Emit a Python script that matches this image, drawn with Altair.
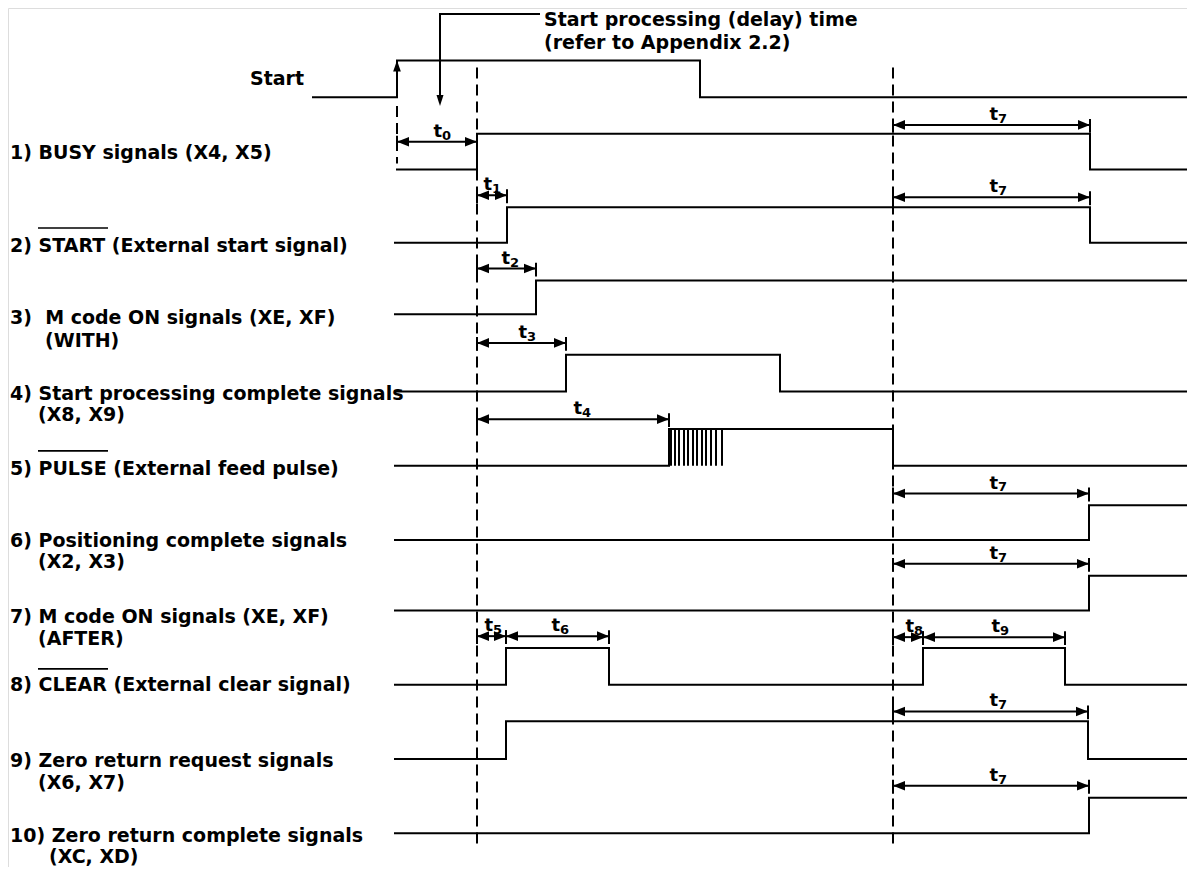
import altair as alt
import pandas as pd

# ---------------- data (time units along x, row levels along y) ----------------
sig_names = ["Start", "BUSY", "START", "MWITH", "SPC", "PULSE", "POS", "MAFTER", "CLEAR", "ZRR", "ZRC"]
sig_low = [98, 171, 245, 317, 395, 470, 545, 616, 691, 766, 841]
sig_high = [61, 135, 209, 283, 358, 433, 510, 581, 654, 728, 805]
sig_begin = [313, 397, 395, 395, 395, 395, 395, 395, 395, 395, 395]
sig_edges = [[397, 700], [477, 1090], [507, 1090], [536], [566, 780], [669, 893],
             [1089], [1089], [506, 609, 923, 1065], [506, 1088], [1089]]
T_END = 1187

pulse_times = [671, 675, 679, 684, 688, 693, 697, 702, 706, 711, 716, 722]
pulse_row = 5

# timing arrows: label digit, from, to, level
arr_digit = ["0", "1", "2", "3", "4", "7", "7", "7", "7", "5", "6", "8", "9", "7", "7"]
arr_from = [397, 477, 477, 477, 477, 893, 893, 893, 893, 477, 506, 893, 923, 893, 893]
arr_to = [477, 507, 536, 566, 669, 1090, 1090, 1089, 1089, 506, 609, 923, 1065, 1088, 1089]
arr_level = [143, 197, 271, 346, 423, 126, 199, 498, 569, 642, 642, 643, 643, 718, 793]
arr_label_x = [442, 492, 510, 527, 582, 998, 998, 998, 998, 493, 560, 914, 1000, 998, 998]

# dashed reference lines
dash_x = [477, 893, 397]
dash_top = [68, 68, 107]
dash_bot = [855, 855, 165]

# signal names
label_text = ["Start", "1) BUSY signals (X4, X5)", "2) START (External start signal)",
              "3)\u00a0 M code ON signals (XE, XF)", "(WITH)",
              "4) Start processing complete signals", "(X8, X9)",
              "5) PULSE (External feed pulse)",
              "6) Positioning complete signals", "(X2, X3)",
              "7) M code ON signals (XE, XF)", "(AFTER)",
              "8) CLEAR (External clear signal)",
              "9) Zero return request signals", "(X6, X7)",
              "10) Zero return complete signals", "(XC, XD)"]
label_x = [304, 10, 10, 10, 45, 10, 38, 10, 10, 38, 10, 38, 10, 10, 38, 10, 49]
label_y = [86, 160, 254, 327, 350, 404, 425, 479, 552, 573, 629, 651, 697, 774, 796, 850, 871]
label_align = ["right"] + ["left"] * 16

# overlined (active-low) names
over_from = [38, 38, 38]
over_to = [108, 108, 108]
over_y = [230, 455, 675]

# annotation
ann_text = ["Start processing (delay) time", "(refer to Appendix 2.2)"]
ann_x = [544, 544]
ann_y = [26, 49]
ann_path_x = [540, 440, 440]
ann_path_y = [14, 14, 100]
ann_tip = (440, 107)
start_tip = (397, 61)

# ---------------- build tables ----------------
rows = []
for i, name in enumerate(sig_names):
    lvl = 0
    order = 0
    ys = [sig_low[i], sig_high[i]]
    rows.append(dict(sig=name, x=sig_begin[i], y=ys[lvl], o=order)); order += 1
    for e in sig_edges[i]:
        rows.append(dict(sig=name, x=e, y=ys[lvl], o=order)); order += 1
        lvl = 1 - lvl
        rows.append(dict(sig=name, x=e, y=ys[lvl], o=order)); order += 1
    rows.append(dict(sig=name, x=T_END, y=ys[lvl], o=order))
sig_df = pd.DataFrame(rows)

hatch_df = pd.DataFrame(dict(x=pulse_times,
                             y=[sig_high[pulse_row]] * len(pulse_times),
                             y2=[sig_low[pulse_row]] * len(pulse_times)))

arr_df = pd.DataFrame(dict(d=arr_digit, x=arr_from, x2=arr_to, y=arr_level, lx=arr_label_x))
arr_df["t"] = "t"
arr_df["ty"] = arr_df["y"] - 5
arr_df["dy"] = arr_df["y"] - 2
tick_df = pd.DataFrame(dict(x=arr_from + arr_to,
                            y=[v - 6 for v in arr_level] * 2,
                            y2=[v + 8 for v in arr_level] * 2))

dash_df = pd.DataFrame(dict(x=dash_x, y=dash_top, y2=dash_bot))
lab_df = pd.DataFrame(dict(text=label_text, x=label_x, y=label_y, align=label_align))
over_df = pd.DataFrame(dict(x=over_from, x2=over_to, y=over_y))
ann_df = pd.DataFrame(dict(text=ann_text, x=ann_x, y=ann_y))
annp_df = pd.DataFrame(dict(x=ann_path_x, y=ann_path_y, o=[0, 1, 2]))
down_df = pd.DataFrame(dict(x=[ann_tip[0]], y=[ann_tip[1]]))
up_df = pd.DataFrame(dict(x=[start_tip[0]], y=[start_tip[1]]))

# ---------------- scales ----------------
W, H = 1179, 859
xs = alt.Scale(domain=[8, 1187], nice=False, zero=False)
ys = alt.Scale(domain=[8, 875], nice=False, zero=False, reverse=True)
FONT = "DejaVu Sans"
LW = 2

def X(f="x"):
    return alt.X(f"{f}:Q", scale=xs, axis=None)

def Y(f="y"):
    return alt.Y(f"{f}:Q", scale=ys, axis=None)

signals = alt.Chart(sig_df).mark_line(color="black", strokeWidth=LW, strokeCap="square").encode(
    x=X(), y=Y(), detail="sig:N", order="o:Q")

hatch = alt.Chart(hatch_df).mark_rule(color="black", strokeWidth=2).encode(
    x=X(), y=Y(), y2="y2:Q")

dashes = alt.Chart(dash_df).mark_rule(color="black", strokeWidth=2, strokeDash=[11, 6]).encode(
    x=X(), y=Y(), y2="y2:Q")

arr_lines = alt.Chart(arr_df).mark_rule(color="black", strokeWidth=2).encode(
    x=X(), x2="x2:Q", y=Y())

ticks = alt.Chart(tick_df).mark_rule(color="black", strokeWidth=2).encode(
    x=X(), y=Y(), y2="y2:Q")

RIGHT = "M0,0L-1,-0.4L-1,0.4Z"
LEFT = "M0,0L1,-0.4L1,0.4Z"
UP = "M0,0L-0.35,1L0.35,1Z"
DOWN = "M0,0L-0.32,-1L0.32,-1Z"

heads_r = alt.Chart(arr_df).mark_point(shape=RIGHT, filled=True, color="black", size=576, opacity=1,
                                        strokeWidth=0).encode(x=X("x2"), y=Y())
heads_l = alt.Chart(arr_df).mark_point(shape=LEFT, filled=True, color="black", size=576, opacity=1,
                                        strokeWidth=0).encode(x=X(), y=Y())

t_text = alt.Chart(arr_df).mark_text(font=FONT, fontSize=18, fontWeight="bold", align="right",
                                     baseline="alphabetic", color="black").encode(
    x=X("lx"), y=Y("ty"), text="t:N")
d_text = alt.Chart(arr_df).mark_text(font=FONT, fontSize=13, fontWeight="bold", align="left",
                                     baseline="alphabetic", color="black").encode(
    x=X("lx"), y=Y("dy"), text="d:N")

labels_l = alt.Chart(lab_df[lab_df["align"] == "left"]).mark_text(
    font=FONT, fontSize=19, fontWeight="bold", align="left", baseline="alphabetic", color="black").encode(
    x=X(), y=Y(), text="text:N")
labels_r = alt.Chart(lab_df[lab_df["align"] == "right"]).mark_text(
    font=FONT, fontSize=19, fontWeight="bold", align="right", baseline="alphabetic", color="black").encode(
    x=X(), y=Y(), text="text:N")

overlines = alt.Chart(over_df).mark_rule(color="black", strokeWidth=1.6).encode(
    x=X(), x2="x2:Q", y=Y())

ann_text_l = alt.Chart(ann_df).mark_text(
    font=FONT, fontSize=19, fontWeight="bold", align="left", baseline="alphabetic", color="black").encode(
    x=X(), y=Y(), text="text:N")
ann_path = alt.Chart(annp_df).mark_line(color="black", strokeWidth=2).encode(
    x=X(), y=Y(), order="o:Q")
down_head = alt.Chart(down_df).mark_point(shape=DOWN, filled=True, color="black", size=484, opacity=1,
                                          strokeWidth=0).encode(x=X(), y=Y())
up_head = alt.Chart(up_df).mark_point(shape=UP, filled=True, color="black", size=484, opacity=1,
                                      strokeWidth=0).encode(x=X(), y=Y())

chart = alt.layer(
    dashes, signals, hatch, arr_lines, ticks, heads_r, heads_l, t_text, d_text,
    labels_l, labels_r, overlines, ann_text_l, ann_path, down_head, up_head
).properties(
    width=W, height=H, autosize=alt.AutoSizeParams(type="none"), padding=0
).configure_view(stroke=None).configure(background="white")

chart.save("out.html", embed_options={"renderer": "svg", "actions": False})
